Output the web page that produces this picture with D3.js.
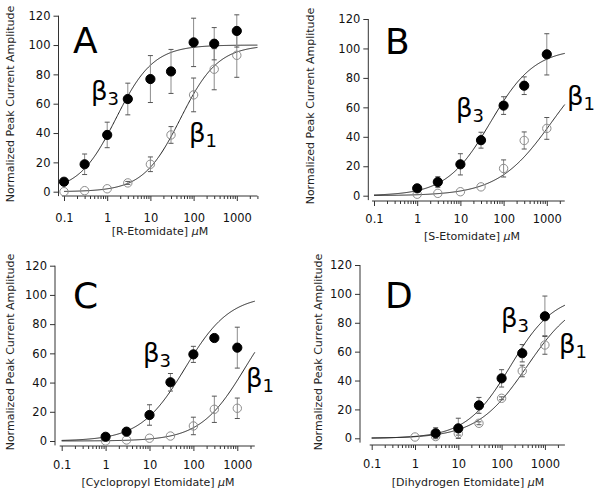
<!DOCTYPE html>
<html><head><meta charset="utf-8">
<script src="https://cdn.jsdelivr.net/npm/d3@7"></script>
<style>body{margin:0;background:#fff}svg{display:block}</style>
</head><body>
<svg id="chart" width="601" height="494"></svg>
<script>
// ---------- data ----------
const panelLetters = ["A", "B", "C", "D"];
const xTitles = ["[R-Etomidate] ", "[S-Etomidate] ", "[Cyclopropyl Etomidate] ", "[Dihydrogen Etomidate] "];
const yTitleText = "Normalized Peak Current Amplitude";
const yTicks = [0, 20, 40, 60, 80, 100, 120];
const xTicks = [0.1, 1, 10, 100, 1000];
const xTickLabels = ["0.1", "1", "10", "100", "1000"];

const concA = [0.1, 0.3, 1, 3, 10, 30, 100, 300, 1000];
const concBCD = [1, 3, 10, 30, 100, 300, 1000];

const b3A = [6.8, 18.7, 38.7, 63.2, 76.8, 82, 101.8, 100.9, 109.6];
const b3AErr = [1, 7, 8.7, 10.8, 16, 15, 16.5, 11, 11];
const b1A = [0, 0.7, 2, 6, 18.7, 38.7, 66, 83.5, 93];
const b1AErr = [0, 0, 0.5, 1, 5, 5.7, 11.5, 14, 15];

const b3B = [5, 9.3, 21.3, 37.7, 61.2, 74.7, 96];
const b3BErr = [1.5, 3.6, 7.2, 5.4, 6, 6, 14];
const b1B = [1, 1.6, 2.7, 6, 18.5, 37.5, 45.7];
const b1BErr = [0.5, 0.5, 0.5, 0.5, 5.8, 5.8, 7.4];

const b3C = [2.9, 6.4, 17.8, 40.2, 59.3, 70.5, 63.9];
const b3CErr = [0.5, 1, 7, 6, 5.5, 1.5, 14];
const b1C = [0, 0.7, 1.9, 3.4, 10.3, 21.7, 22.4];
const b1CErr = [0, 0, 0.5, 0.5, 6, 9, 7];

const b3D = [null, 3.5, 6.9, 22.8, 41.5, 58.9, 84.5];
const b3DErr = [0, 3.8, 7, 5.5, 6, 6, 14];
const b1D = [0.9, 1.2, 3.2, 10.4, 27.7, 46.6, 64.6];
const b1DErr = [0, 0, 1, 1, 1, 4, 6.4];

// Hill fit parameters (max, EC50, Hill slope) per panel
const fitMax = [100, 100, 100, 100];
const b3EC50 = [1.6, 50, 65, 160];
const b3Hill = [1, 0.85, 0.85, 0.85];
const b1EC50 = [50, 1300, 1500, 390];
const b1Hill = [1, 0.7, 0.85, 0.75];
const curveStart = [0.1, 0.1, 0.1, 0.1];
const curveEnd = [3000, 2600, 2500, 2900];

const panelConc = [concA, concBCD, concBCD, concBCD];
const panelB3 = [b3A, b3B, b3C, b3D];
const panelB3Err = [b3AErr, b3BErr, b3CErr, b3DErr];
const panelB1 = [b1A, b1B, b1C, b1D];
const panelB1Err = [b1AErr, b1BErr, b1CErr, b1DErr];

// ---------- layout ----------
const layout = [
  {ax: 58.5, x01: 64, dec: 43.2, y0: 191.7, y120: 15.7, xAxisY: 196, xAxisEnd: 3000,
   tickLabY: 222, titleX: 160, titleY: 235, yTitleX: 14, yTitleY: 104,
   letter: [73, 53], b3: [91, 100], b1: [189, 141.5]},
  {ax: 368.3, x01: 374, dec: 43.2, y0: 195.7, y120: 19, xAxisY: 201, xAxisEnd: 2600,
   tickLabY: 223, titleX: 472, titleY: 240, yTitleX: 314, yTitleY: 106,
   letter: [385, 54], b3: [456, 117], b1: [567, 105]},
  {ax: 55, x01: 61.7, dec: 43.9, y0: 441, y120: 265.7, xAxisY: 446, xAxisEnd: 2500,
   tickLabY: 469, titleX: 158, titleY: 486, yTitleX: 14, yTitleY: 352,
   letter: [73, 307.7], b3: [143, 361.7], b1: [246, 386.7]},
  {ax: 360, x01: 371.7, dec: 43.3, y0: 438.3, y120: 265, xAxisY: 445, xAxisEnd: 2900,
   tickLabY: 467.5, titleX: 468, titleY: 486, yTitleX: 322, yTitleY: 352,
   letter: [385, 307.7], b3: [501, 326.7], b1: [559, 353.3]}
];

const FONT = "'DejaVu Sans', Verdana, sans-serif";
const AXIS_COLOR = "#333";
const svg = d3.select("#chart");

function hill(x, top, ec50, n) { return top / (1 + Math.pow(ec50 / x, n)); }

layout.forEach((L, p) => {
  const g = svg.append("g");
  const x = d3.scaleLog().domain([0.1, 1000]).range([L.x01, L.x01 + 4 * L.dec]);
  const y = d3.scaleLinear().domain([0, 120]).range([L.y0, L.y120]);

  // minor ticks
  const minors = [];
  for (let m = -1; m <= 3; m++) for (let k = 2; k <= 9; k++) {
    const v = k * Math.pow(10, m);
    if (v <= L.xAxisEnd) minors.push(v);
  }

  // x axis
  const xg = g.append("g").attr("transform", `translate(0,${L.xAxisY})`);
  xg.append("line").attr("x1", L.x01 - 2).attr("x2", x(L.xAxisEnd))
    .attr("stroke", AXIS_COLOR).attr("stroke-width", 1);
  const xMinor = xg.append("g").call(d3.axisBottom(x).tickValues(minors).tickSize(3).tickFormat(""));
  xMinor.select(".domain").remove();
  const xMajor = xg.append("g").call(d3.axisBottom(x).tickValues(xTicks).tickSize(5)
    .tickFormat((d, i) => xTickLabels[i]));
  xMajor.select(".domain").remove();
  xg.selectAll(".tick line").attr("stroke", AXIS_COLOR);
  xMajor.selectAll("text").attr("y", L.tickLabY - L.xAxisY).attr("dy", null)
    .attr("fill", "#111").style("font-family", FONT).style("font-size", "11.5px");

  // y axis
  const yg = g.append("g").attr("transform", `translate(${L.ax},0)`);
  yg.append("line").attr("y1", y(120)).attr("y2", y(-3))
    .attr("stroke", AXIS_COLOR).attr("stroke-width", 1);
  const yA = yg.append("g").call(d3.axisLeft(y).tickValues(yTicks).tickSize(5));
  yA.select(".domain").remove();
  yA.selectAll(".tick line").attr("stroke", AXIS_COLOR);
  yA.selectAll("text").attr("x", -8).attr("fill", "#111")
    .style("font-family", FONT).style("font-size", "11.5px");

  // titles
  const xt = g.append("text").attr("x", L.titleX).attr("y", L.titleY)
    .attr("text-anchor", "middle").style("font-family", FONT).style("font-size", "11px")
    .attr("fill", "#222").text(xTitles[p]);
  xt.append("tspan").style("font-style", "italic").text("\u03bc");
  xt.append("tspan").text("M");

  g.append("text").attr("transform", `translate(${L.yTitleX},${L.yTitleY}) rotate(-90)`)
    .attr("text-anchor", "middle").style("font-family", FONT).style("font-size", "11px")
    .attr("fill", "#222").text(yTitleText);

  g.append("text").attr("x", L.letter[0]).attr("y", L.letter[1])
    .style("font-family", FONT).style("font-size", "36px").attr("fill", "#000")
    .text(panelLetters[p]);

  [[L.b3, "3"], [L.b1, "1"]].forEach(([pos, sub]) => {
    const t = g.append("text").attr("x", pos[0]).attr("y", pos[1])
      .style("font-family", FONT).style("font-size", "26px").attr("fill", "#000").text("\u03b2");
    t.append("tspan").attr("dy", 5).style("font-size", "18px").text(sub);
  });

  // fit curves
  const line = d3.line().x(d => x(d[0])).y(d => y(d[1]));
  const lx = d3.scaleLinear().domain([0, 300])
    .range([Math.log10(curveStart[p]), Math.log10(curveEnd[p])]);
  const xs = d3.range(301).map(i => Math.pow(10, lx(i)));
  [[b3EC50[p], b3Hill[p]], [b1EC50[p], b1Hill[p]]].forEach(([ec, n]) => {
    g.append("path").datum(xs.map(c => [c, hill(c, fitMax[p], ec, n)]))
      .attr("d", line).attr("fill", "none").attr("stroke", "#222").attr("stroke-width", 1);
  });

  // error bars + markers
  const conc = panelConc[p];
  const series = [
    {vals: panelB1[p], errs: panelB1Err[p], filled: false},
    {vals: panelB3[p], errs: panelB3Err[p], filled: true}
  ];
  series.forEach(s => {
    const pts = conc.map((c, i) => ({c, v: s.vals[i], e: s.errs[i]})).filter(d => d.v !== null);
    const eb = g.append("g");
    pts.filter(d => d.e > 0.8).forEach(d => {
      const cx = x(d.c);
      eb.append("line").attr("x1", cx).attr("x2", cx).attr("y1", y(d.v + d.e)).attr("y2", y(d.v - d.e))
        .attr("stroke", "#8c8c8c").attr("stroke-width", 1);
      [d.v + d.e, d.v - d.e].forEach(yy => {
        eb.append("line").attr("x1", cx - 2.5).attr("x2", cx + 2.5).attr("y1", y(yy)).attr("y2", y(yy))
          .attr("stroke", "#555").attr("stroke-width", 1);
      });
    });
    g.append("g").selectAll("circle").data(pts).join("circle")
      .attr("cx", d => x(d.c)).attr("cy", d => y(d.v))
      .attr("r", s.filled ? 4.6 : 4.2)
      .attr("fill", s.filled ? "#000" : "none")
      .attr("stroke", s.filled ? "#000" : "#8c8c8c").attr("stroke-width", 1);
  });
});
</script>
</body></html>
